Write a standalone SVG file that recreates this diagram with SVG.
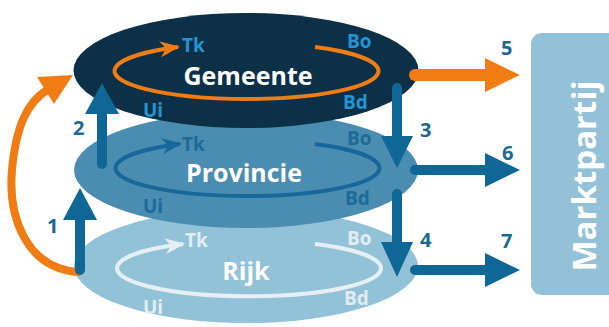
<svg xmlns="http://www.w3.org/2000/svg" width="609" height="327" viewBox="0 0 609 327">
<defs>
<style>
text{font-family:"Open Sans","Liberation Sans",sans-serif;font-weight:bold}
.title{font-size:25px;fill:#ffffff;text-anchor:middle}
.lbl{font-size:19px}
.num{font-size:20px;fill:#1b6891}
.g{fill:#2196d3}.p{fill:#1b6a97}.r{fill:#e2edf3}
.loop{fill:none;stroke-width:4}
.shaft{stroke:#0f6795;stroke-width:10;stroke-linecap:round;fill:none}
</style>
<marker id="hO" viewBox="0 0 10 8" refX="9" refY="4" markerWidth="5" markerHeight="4" orient="auto" markerUnits="strokeWidth"><path d="M0 0 L10 4 L0 8 L3 4 Z" fill="#f07d14"/></marker>
<marker id="hP" viewBox="0 0 10 8" refX="9" refY="4" markerWidth="5" markerHeight="4" orient="auto" markerUnits="strokeWidth"><path d="M0 0 L10 4 L0 8 L3 4 Z" fill="#17679a"/></marker>
<marker id="hR" viewBox="0 0 10 8" refX="9" refY="4" markerWidth="5" markerHeight="4" orient="auto" markerUnits="strokeWidth"><path d="M0 0 L10 4 L0 8 L3 4 Z" fill="#e6eff4"/></marker>
</defs>
<g id="rijk">
<ellipse cx="246" cy="266" rx="172" ry="57" fill="#92c2d8"/>
<path class="loop" d="M315 244 A132 28 0 1 1 183 244" stroke="#e6eff4" marker-end="url(#hR)"/>
<text class="title" x="246" y="280">Rijk</text>
<text class="lbl r" x="185" y="247">Tk</text>
<text class="lbl r" x="347" y="245">Bo</text>
<text class="lbl r" x="344" y="305">Bd</text>
<text class="lbl r" x="143" y="314">Ui</text>
</g>
<g id="provincie">
<ellipse cx="246" cy="170" rx="172" ry="58" fill="#4b8db0"/>
<path class="loop" d="M315 144 A132 28 0 1 1 180 144" stroke="#17679a" marker-end="url(#hP)"/>
<text class="title" x="244" y="182">Provincie</text>
<text class="lbl p" x="182" y="151">Tk</text>
<text class="lbl p" x="347" y="145">Bo</text>
<text class="lbl p" x="345" y="205">Bd</text>
<text class="lbl p" x="143" y="213">Ui</text>
</g>
<g id="gemeente">
<ellipse cx="246" cy="70.5" rx="172.5" ry="57.5" fill="#0d3049"/>
<path class="loop" d="M315 47 A132 28 0 1 1 178 47" stroke="#f07d14" marker-end="url(#hO)"/>
<text class="title" x="248" y="85">Gemeente</text>
<text class="lbl g" x="182" y="52">Tk</text>
<text class="lbl g" x="347" y="48">Bo</text>
<text class="lbl g" x="343" y="109">Bd</text>
<text class="lbl g" x="143" y="117">Ui</text>
</g>
<g id="marktpartij">
<rect x="531" y="33" width="100" height="262" rx="11" fill="#93c1d7"/>
<text x="0" y="0" transform="translate(596 176) rotate(-90)" text-anchor="middle" style="font-size:33px;fill:#ffffff">Marktpartij</text>
</g>
<g id="connectors">
<path d="M78 272 C25 268 8 215 12 170 S28 102 47 90" fill="none" stroke="#f07d14" stroke-width="8" stroke-linecap="round"/>
<polygon points="73,75 37,77 54,104" fill="#f07d14"/>
<line class="shaft" x1="80" y1="270" x2="80" y2="215"/>
<polygon points="80,188 63,220 97,220" fill="#0f6795"/>
<line class="shaft" x1="102" y1="164" x2="102" y2="110"/>
<polygon points="102,83 85,114 119,114" fill="#0f6795"/>
<line class="shaft" x1="397" y1="88" x2="397" y2="140"/>
<polygon points="397,168 381,136 413,136" fill="#0f6795"/>
<line class="shaft" x1="397" y1="194" x2="397" y2="245"/>
<polygon points="397,277 381,242 413,242" fill="#0f6795"/>
<line x1="415" y1="75" x2="488" y2="75" stroke="#f07d14" stroke-width="12" stroke-linecap="round"/>
<polygon points="520,75 485,58 485,92" fill="#f07d14"/>
<line class="shaft" x1="415" y1="170" x2="488" y2="170"/>
<polygon points="520,170 485,153 485,187" fill="#0f6795"/>
<line class="shaft" x1="415" y1="270" x2="488" y2="270"/>
<polygon points="520,270 485,253 485,287" fill="#0f6795"/>
<text class="num" x="47" y="233">1</text>
<text class="num" x="73" y="135">2</text>
<text class="num" x="420" y="137">3</text>
<text class="num" x="420" y="247">4</text>
<text class="num" x="501" y="55">5</text>
<text class="num" x="502" y="160">6</text>
<text class="num" x="501" y="248">7</text>
</g>
</svg>
